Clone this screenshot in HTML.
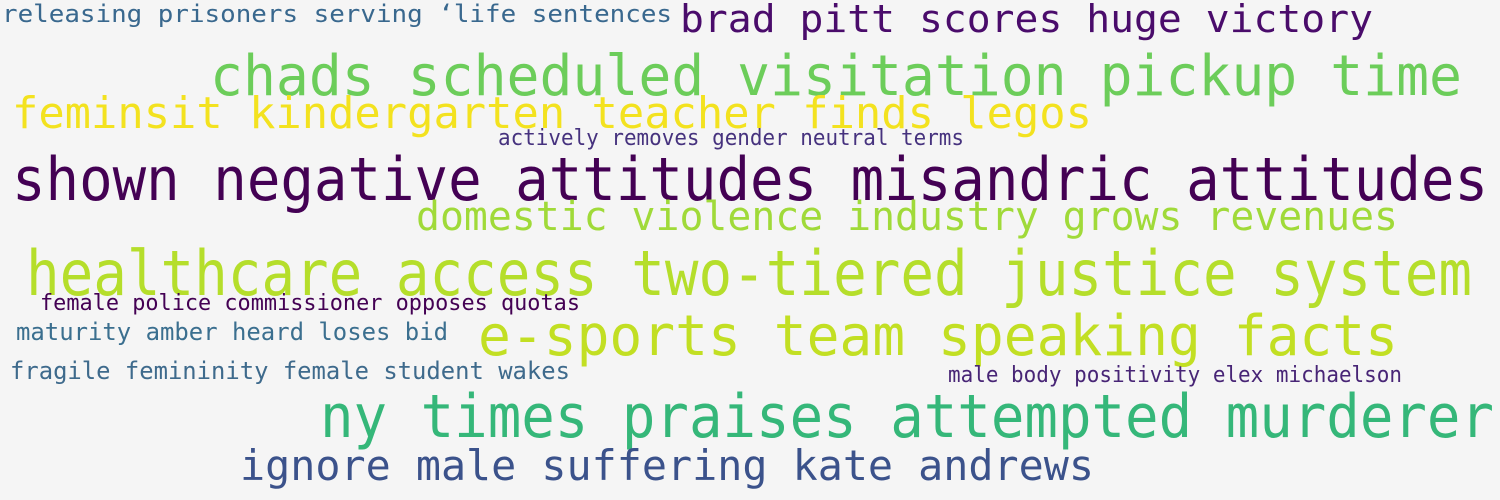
<!DOCTYPE html>
<html><head><meta charset="utf-8"><style>
html,body{margin:0;padding:0;background:#f5f5f5;}
svg{display:block}
text{font-family:"DejaVu Sans Mono","Liberation Mono",monospace;}
</style></head><body>
<svg id="cloud" width="1500" height="500" viewBox="0 0 1500 500">
<rect width="1500" height="500" fill="#f5f5f5"/>
</svg>
<script>
const phrases = ["releasing prisoners serving ‘life sentences","brad pitt scores huge victory","chads scheduled visitation pickup time","feminsit kindergarten teacher finds legos","actively removes gender neutral terms","shown negative attitudes misandric attitudes","domestic violence industry grows revenues","healthcare access two-tiered justice system","female police commissioner opposes quotas","maturity amber heard loses bid","e-sports team speaking facts","fragile femininity female student wakes","male body positivity elex michaelson","ny times praises attempted murderer","ignore male suffering kate andrews"];
const weights = [24,38,56,44,22,60,40,62,22,24,56,24,22,60,42];
const colors = ["#39688e","#4a0c6b","#6ccd5a","#f3e21f","#46327e","#440154","#a0da39","#b5de2b","#440154","#3b6f8f","#c2df23","#3e6a8c","#482576","#35b779","#3b528b"];
const layout = [[2,22,670],[680,32,693],[210,95,1252],[12,128,1080],[498,145,466],[12,200,1476],[416,230,982],[26,295,1446],[40,310,540],[16,340,432],[478,355,920],[10,379,560],[948,382,454],[320,437,1174],[240,480,854]];
const svg = document.getElementById('cloud');
phrases.forEach((p,i)=>{
  const t = document.createElementNS('http://www.w3.org/2000/svg','text');
  t.setAttribute('x', layout[i][0]);
  t.setAttribute('y', layout[i][1]);
  t.setAttribute('font-size', weights[i]);
  t.setAttribute('fill', colors[i]);
  t.setAttribute('textLength', layout[i][2]);
  t.setAttribute('lengthAdjust', 'spacingAndGlyphs');
  t.textContent = p;
  
  
  svg.appendChild(t);
});
</script>
</body></html>
